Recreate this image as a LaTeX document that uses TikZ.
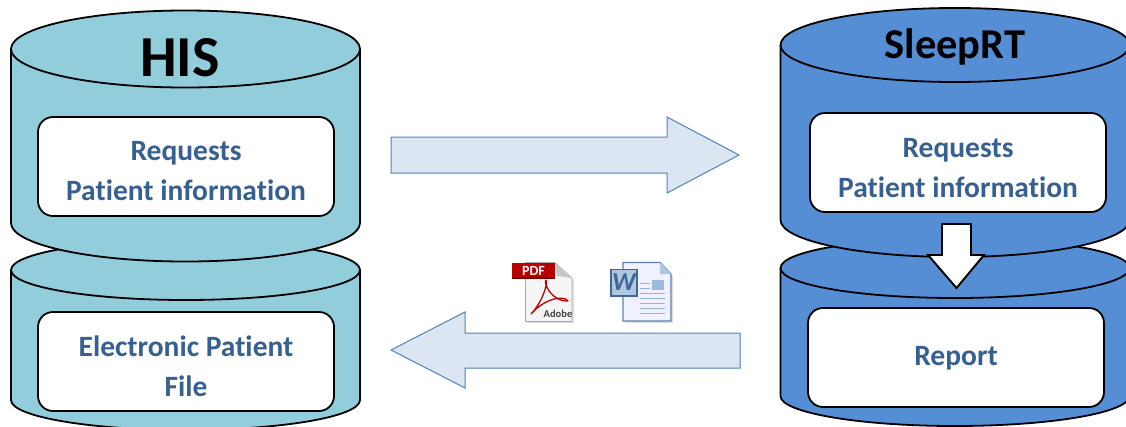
\documentclass[tikz,border=0pt]{standalone}
\usepackage{fontspec}
\setmainfont{Carlito}[Ligatures=CommonOff]
\definecolor{cylA}{HTML}{92CDDC}
\definecolor{cylB}{HTML}{558ED5}
\definecolor{txtblue}{HTML}{366092}
\definecolor{arrfill}{HTML}{DCE6F2}
\definecolor{arrline}{HTML}{4F81BD}
\newcommand{\cylinder}[6]{% x-center, rx, top-center y, ry top, side bottom y, fill
  \draw[cyl,fill=#6] (#1-#2,#3) -- (#1-#2,#5)
    arc[start angle=180,end angle=0,x radius=#2,y radius=#4]
    -- (#1+#2,#3) arc[start angle=0,end angle=-180,x radius=#2,y radius=#4] -- cycle;
  \draw[cyl] (#1-#2,#3) arc[start angle=180,end angle=0,x radius=#2,y radius=#4];
}
\tikzset{
  cyl/.style={draw=black,line width=1.8pt,line join=round},
  inbox/.style={draw=black,line width=1.8pt,fill=white,rounded corners=15pt,
    minimum width=296pt,minimum height=99pt,inner sep=0pt},
  intext/.style={inner sep=0pt,align=center,text=txtblue,font=\fontsize{29.5}{40}\selectfont\bfseries},
  title/.style={inner sep=0pt,text=black},
  blockarrow/.style={draw=arrline,line width=1pt,fill=arrfill,line join=miter},
  whitearrow/.style={draw=black,line width=1.9pt,fill=white,line join=miter},
}
\begin{document}
\begin{tikzpicture}[x=1pt,y=-1pt]
\useasboundingbox (0,0) rectangle (1126,426);
\clip (0,0) rectangle (1126,426);
% left stack
\cylinder{185.5}{174.5}{270}{30}{400}{cylA}
\cylinder{185.5}{174.5}{49}{38.5}{223}{cylA}
\node[title,font=\fontsize{58}{58}\selectfont\bfseries] (his) at (180,58) {HIS};
\node[inbox] (hisreq) at (186,166.5) {};
\node[intext] (hisreqt) at (186,171) {Requests\\Patient information};
\node[inbox] (hisfile) at (186,361.5) {};
\node[intext] (hisfilet) at (186,366) {Electronic Patient\\File};
% right stack
\cylinder{955}{174.5}{268}{30}{396}{cylB}
\cylinder{955}{174.5}{45}{37}{220}{cylB}
\node[title,font=\fontsize{42.5}{42.5}\selectfont\bfseries] (sleep) at (955,47) {SleepRT};
\node[inbox] (slreq) at (958,162.5) {};
\node[intext] (slreqt) at (958,168) {Requests\\Patient information};
\node[inbox] (slrep) at (956,357.5) {};
\node[intext] (slrept) at (956,358) {Report};
\draw[whitearrow] (942,224) -- (971,224) -- (971,255) -- (984,255) -- (956.5,288) -- (928,255) -- (942,255) -- cycle;
% block arrows
\draw[blockarrow] (391,137) -- (667,137) -- (667,117) -- (739,155) -- (667,193) -- (667,173) -- (391,173) -- cycle;
\draw[blockarrow] (740,333) -- (465,333) -- (465,312) -- (391,350) -- (465,388) -- (465,368) -- (740,368) -- cycle;
% PDF icon
\fill[black!12] (527,264) -- (556,264) -- (574,280) -- (574,323) -- (527,323) -- cycle;
\draw[draw=black!35,fill=white!96!black,line width=.6pt] (525.5,262.5) -- (555,262.5) -- (572,278) -- (572,321.5) -- (525.5,321.5) -- cycle;
\fill[black!22] (555,262.5) -- (557,276) -- (572,278) -- cycle;
\draw[red!75!black,line width=1.3pt,line join=round] (531,314) .. controls (541,304) and (548,285) .. (546,280) .. controls (543,283) and (552,302) .. (568,301) .. controls (564,295) and (545,298) .. (531,314) -- cycle;
\fill[red!72!black] (512,263) rectangle (555,279);
\fill[red!45!black] (512,277) rectangle (555,279);
\node[inner sep=0pt,text=white,font=\fontsize{14}{14}\selectfont\bfseries] (pdf) at (533.5,270.5) {PDF};
\node[inner sep=0pt,text=black!75,font=\fontsize{10.5}{10.5}\selectfont\bfseries] (adobe) at (558,314) {Adobe};
% Word icon
\fill[black!12] (625,264) -- (661,264) -- (673,276) -- (673,323) -- (625,323) -- cycle;
\draw[draw=arrline!70!gray,fill=white!94!blue,line width=1.2pt] (623,262.5) -- (660,262.5) -- (671,274) -- (671,321) -- (623,321) -- cycle;
\fill[arrline!45] (660,262.5) -- (660,274) -- (671,274) -- cycle;
\fill[arrline!55] (652,280) rectangle (664,290);
\foreach \yy in {283,288,293,298,303,308,313}{
  \draw[arrline!60,line width=.7pt] (640,\yy) -- (\ifnum\yy<293 650\else 665\fi,\yy);
}
\draw[draw=arrline!80!black,fill=arrline!45,line width=1.2pt] (611,269.5) rectangle (637,296);
\node[inner sep=0pt,text=arrline!80!black,font=\fontsize{26}{26}\selectfont\bfseries\itshape] (word) at (624,282.5) {W};
\end{tikzpicture}
\end{document}
